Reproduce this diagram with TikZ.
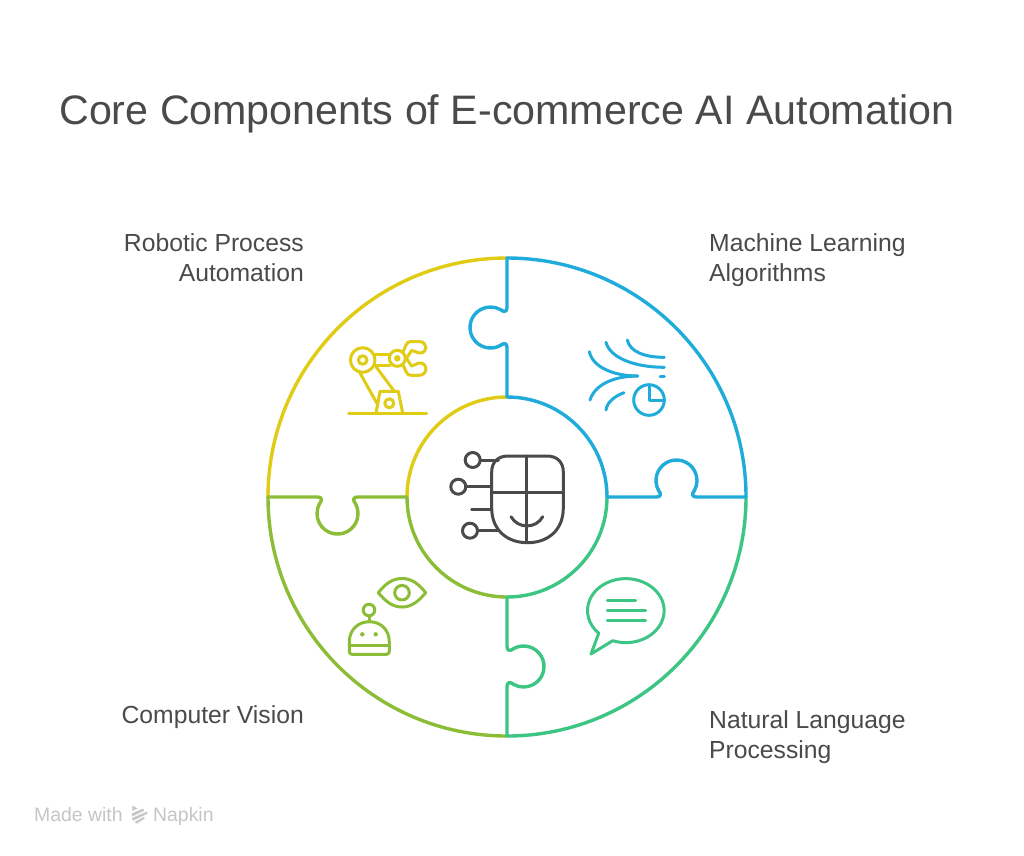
\documentclass[tikz,border=0pt]{standalone}
\usepackage{fontspec}
\setmainfont{Liberation Sans}
\definecolor{ink}{HTML}{4A4A4A}
\definecolor{cblue}{HTML}{1FACDB}
\definecolor{cgreen}{HTML}{3CC583}
\definecolor{colive}{HTML}{8CBD36}
\definecolor{cyellow}{HTML}{E0CB15}
\definecolor{foot}{HTML}{C6C6C6}
\newcommand{\tabline}[2]{\draw[ring,#1,rotate=#2] (100,0) -- (149.5,0) .. controls (154,0) and (154.5,3.2) .. (151.5,6.7) arc (208.6:-28.6:20.5) .. controls (184.5,3.2) and (185,0) .. (189.5,0) -- (239,0);}
\tikzset{
  ring/.style={line width=3.4pt,line cap=round,line join=round},
  icon/.style={line width=3pt,line cap=round,line join=round},
  titletext/.style={font=\fontsize{41.2}{48}\selectfont,text=ink,inner sep=0pt},
  labeltext/.style={font=\fontsize{24.7}{30}\selectfont,text=ink,inner sep=0pt},
  foottext/.style={font=\fontsize{19.4}{23}\selectfont,text=foot,inner sep=0pt},
}
\begin{document}
\begin{tikzpicture}[x=1pt,y=-1pt]
\useasboundingbox (0,0) rectangle (1024,855);
\fill[white] (0,0) rectangle (1024,855);
\node[titletext,anchor=base] (title) at (507,124) {Core Components of E-commerce AI Automation};
\node[labeltext,anchor=base east] (rpa1) at (304,251) {Robotic Process};
\node[labeltext,anchor=base east] (rpa2) at (304,281) {Automation};
\node[labeltext,anchor=base west] (ml1) at (709,251) {Machine Learning};
\node[labeltext,anchor=base west] (ml2) at (709,281) {Algorithms};
\node[labeltext,anchor=base east] (cv) at (304,723) {Computer Vision};
\node[labeltext,anchor=base west] (nlp1) at (709,728) {Natural Language};
\node[labeltext,anchor=base west] (nlp2) at (709,758) {Processing};
\node[foottext,anchor=base west] (made) at (34,821) {Made with};
\node[foottext,anchor=base west] (napkin) at (153,821) {Napkin};
% logo
\fill[foot] (132.3,805.7) -- (137.6,808.4) -- (132.3,811) -- cycle;
\fill[foot] (131.8,813.5) -- (143,808.6) -- (144.2,810.8) -- (131.8,816.5) -- cycle;
\fill[foot] (131.8,818) -- (147,811.6) -- (147.6,813.6) -- (133,820.6) -- cycle;
\fill[foot] (134.5,822) -- (144,816.8) -- (144.6,818.6) -- (137,823.6) -- cycle;
% ring
\begin{scope}[shift={(507,497)},yscale=-1]
\draw[ring,cyellow] (-239,0) arc (180:90:239);
\draw[ring,cyellow] (-100,0) arc (180:90:100);
\tabline{colive}{180}
\draw[ring,colive] (0,-239) arc (270:180:239);
\draw[ring,colive] (-100,0) arc (180:270:100);
\tabline{cgreen}{90}
\draw[ring,cgreen] (239,0) arc (0:-90:239);
\draw[ring,cgreen] (0,-100) arc (-90:0:100);
\tabline{cblue}{0}
\tabline{cblue}{-90}
\draw[ring,cblue] (0,239) arc (90:0:239);
\draw[ring,cblue] (100,0) arc (0:90:100);
\end{scope}
% robot arm
\begin{scope}[icon,cyellow]
\draw (348.5,413) -- (426.7,413);
\draw (376,413) -- (380,391.3) -- (398.3,391.3) -- (402.7,413);
\draw (389.3,403.3) circle (4.5);
\draw (362.7,360) circle (12.3);
\draw (362.7,360) circle (4.3);
\draw (397.3,358.3) circle (8);
\fill (397.3,358.3) circle (3.2);
\draw (375,354) -- (389.5,354);
\draw (375,365) -- (390,365);
\draw (360,373) -- (376.7,403);
\draw (376,366.7) -- (394.3,391.3);
\draw (403.5,351) -- (406,345) .. controls (407,342.5) and (408.5,341.5) .. (411,341.5) -- (419,341.5) .. controls (428,341.5) and (428,353) .. (420,353) .. controls (416,353) and (414.5,350) .. (411.5,350.5);
\draw (403.5,366) -- (406,371.5) .. controls (407,374) and (408.5,375.3) .. (411,375.3) -- (419,375.3) .. controls (428,375.3) and (428,363) .. (420,363) .. controls (416,363) and (414.5,366) .. (411.5,366);
\draw (411.5,350.5) -- (406.5,358.3) -- (411.5,366);
\end{scope}
% ml icon
\begin{scope}[icon,cblue]
\draw (589.3,351.7) .. controls (593,368) and (615,376) .. (637.7,376);
\draw (590,400) .. controls (595,384) and (615,376) .. (637.7,376);
\draw (606,342.3) .. controls (610,358) and (635,367.3) .. (664.3,367.3);
\draw (627.3,340) .. controls (630,352) and (645,357.3) .. (664.3,357.3);
\draw (660,376.7) -- (664.3,376.7);
\draw (606,410) .. controls (607,402) and (615,396) .. (624,392.7);
\draw (649,400) circle (15.3);
\draw (649,385) -- (649,400) -- (664,400);
\end{scope}
% centre icon
\begin{scope}[icon,ink]
\draw (491.7,472) .. controls (491.7,462) and (498,456) .. (508,456) -- (547,456) .. controls (557,456) and (563.3,462) .. (563.3,472) -- (563.3,508) .. controls (563.3,530) and (548,542.7) .. (527.5,542.7) .. controls (507,542.7) and (491.7,530) .. (491.7,508) -- cycle;
\draw (526.7,456) -- (526.7,542.7);
\draw (491.7,492.3) -- (563.3,492.3);
\draw (511,516.7) .. controls (518,529) and (536,529) .. (542.7,516.7);
\draw (472.7,460) circle (7.5);
\draw (480.2,460) -- (498.3,460);
\draw (458.3,486.7) circle (7.5);
\draw (465.8,486.7) -- (491.7,486.7);
\draw (471.7,509.3) -- (491.7,509.3);
\draw (470,530.7) circle (7.5);
\draw (477.5,530.7) -- (498,530.7);
\end{scope}
% vision icon
\begin{scope}[icon,colive]
\draw (378.3,592.7) .. controls (386,583) and (393,578.5) .. (402,578.5) .. controls (411,578.5) and (418,583) .. (425.7,592.7) .. controls (418,602) and (411,607) .. (402,607) .. controls (393,607) and (386,602) .. (378.3,592.7) -- cycle;
\draw (402,592.7) circle (7.3);
\draw (369,610) circle (5.8);
\draw (369,615.8) -- (369,621.7);
\draw (349.3,642) .. controls (349.3,630) and (358,621.7) .. (369.3,621.7) .. controls (381,621.7) and (389.3,630) .. (389.3,642) -- (389.3,651) .. controls (389.3,653) and (388.5,654.3) .. (386.5,654.3) -- (352,654.3) .. controls (350,654.3) and (349.3,653) .. (349.3,651) -- cycle;
\draw (349.3,645) -- (389.3,645);
\fill (362.3,634.3) circle (2.2);
\fill (375.7,634.3) circle (2.2);
\end{scope}
% speech icon
\begin{scope}[icon,cgreen]
\draw (612.7,640.7) arc (110:-225:38.3 and 32) -- (591,654) -- cycle;
\draw (607.3,600) -- (635.7,600);
\draw (607.3,610) -- (645.7,610);
\draw (607.3,620) -- (645.7,620);
\end{scope}
\end{tikzpicture}
\end{document}
